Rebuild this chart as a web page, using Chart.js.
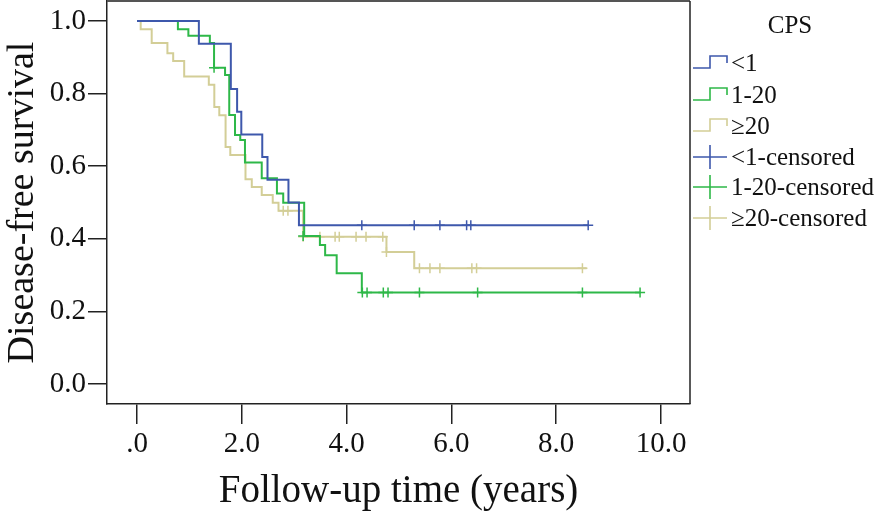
<!DOCTYPE html>
<html>
<head>
<meta charset="utf-8">
<script src="https://cdn.jsdelivr.net/npm/chart.js@4.4.0/dist/chart.umd.min.js"></script>
<style>
  html, body { margin: 0; padding: 0; background: #fff; }
  #wrap { position: relative; width: 886px; height: 515px; overflow: hidden; }
  #legend { position: absolute; left: 0; top: 0; font-family: "Liberation Serif", "Times New Roman", serif; color: #111; }
  .legend-title { position: absolute; left: 740px; width: 100px; top: 10px; line-height: 30px; font-size: 25px; text-align: center; }
  .row { position: absolute; left: 692px; height: 30px; display: flex; align-items: center; font-size: 25px; white-space: nowrap; }
  .row svg { margin-right: 3px; }
</style>
</head>
<body>
<div id="wrap">
  <canvas id="kmChart" width="886" height="515"></canvas>
  <div id="legend"></div>
</div>
<script>
  // CPS groups
  const groups = ["<1", "1-20", "\u226520"];
  const colors = ["#3E58AC", "#2EB848", "#D3CE97"];

  // step curves: event times (years) and survival after each step
  const lowT = [0, 1.18, 1.79, 1.91, 1.99, 2.39, 2.49, 2.89, 3.09, 8.61];
  const lowS = [1.0, 0.9375, 0.8125, 0.75, 0.6875, 0.625, 0.5625, 0.5, 0.4375, 0.4375];

  const midT = [0, 0.78, 0.98, 1.39, 1.47, 1.68, 1.76, 1.87, 1.97, 2.06, 2.38, 2.67, 2.79, 3.19, 3.49, 3.59, 3.81, 4.29, 9.60];
  const midS = [1.0, 0.977, 0.959, 0.939, 0.871, 0.851, 0.741, 0.686, 0.672, 0.610, 0.567, 0.525, 0.499, 0.408, 0.383, 0.355, 0.305, 0.252, 0.252];

  const highT = [0, 0.07, 0.28, 0.58, 0.69, 0.90, 1.37, 1.475, 1.57, 1.69, 1.78, 2.07, 2.19, 2.38, 2.59, 2.70, 3.17, 4.76, 5.29, 8.58];
  const highS = [1.0, 0.977, 0.939, 0.911, 0.890, 0.847, 0.824, 0.763, 0.740, 0.653, 0.631, 0.564, 0.543, 0.521, 0.499, 0.477, 0.406, 0.364, 0.319, 0.319];

  // censored observations
  const lowCensT = [4.29, 5.29, 5.78, 6.29, 6.37, 8.61];
  const lowCensS = [0.4375, 0.4375, 0.4375, 0.4375, 0.4375, 0.4375];

  const midCensT = [1.47, 3.17, 4.30, 4.39, 4.70, 4.79, 5.39, 6.50, 8.50, 9.60];
  const midCensS = [0.871, 0.408, 0.252, 0.252, 0.252, 0.252, 0.252, 0.252, 0.252, 0.252];

  const highCensT = [2.79, 2.88, 3.17, 3.49, 3.78, 3.86, 4.18, 4.37, 4.69, 4.76, 5.39, 5.59, 5.78, 6.39, 6.48, 8.50];
  const highCensS = [0.477, 0.477, 0.406, 0.406, 0.406, 0.406, 0.406, 0.406, 0.406, 0.364, 0.319, 0.319, 0.319, 0.319, 0.319, 0.319];

  const xTicks = [0, 2, 4, 6, 8, 10];
  const yTicks = [0, 0.2, 0.4, 0.6, 0.8, 1.0];

  const serif = "'Liberation Serif', 'Times New Roman', serif";

  function pts(t, s) {
    return t.map((x, i) => ({ x: x, y: s[i] }));
  }

  function stepSet(t, s, i) {
    return {
      label: groups[i],
      data: pts(t, s),
      showLine: true,
      stepped: "before",
      borderColor: colors[i],
      borderWidth: 2,
      pointRadius: 0,
      fill: false,
      order: i + 1
    };
  }

  function censSet(t, s, i) {
    return {
      label: groups[i] + "-censored",
      data: pts(t, s),
      showLine: false,
      pointStyle: "cross",
      pointRadius: 5,
      borderColor: colors[i],
      backgroundColor: colors[i],
      pointBorderWidth: 1.5,
      order: i + 1
    };
  }

  const framePlugin = {
    id: "frame",
    afterDraw(chart) {
      const { ctx, chartArea: a } = chart;
      ctx.save();
      ctx.strokeStyle = "#555";
      ctx.lineWidth = 2;
      ctx.beginPath();
      ctx.moveTo(a.left, a.top);
      ctx.lineTo(a.right, a.top);
      ctx.stroke();
      ctx.strokeStyle = "#222";
      ctx.lineWidth = 1.5;
      ctx.beginPath();
      ctx.moveTo(a.right, a.top);
      ctx.lineTo(a.right, a.bottom);
      ctx.stroke();
      ctx.restore();
    }
  };

  new Chart(document.getElementById("kmChart"), {
    type: "scatter",
    data: {
      datasets: [
        stepSet(lowT, lowS, 0),
        stepSet(midT, midS, 1),
        stepSet(highT, highS, 2),
        censSet(lowCensT, lowCensS, 0),
        censSet(midCensT, midCensS, 1),
        censSet(highCensT, highCensS, 2)
      ]
    },
    options: {
      responsive: false,
      animation: false,
      layout: { autoPadding: false, padding: { top: 1, right: 196, left: 0, bottom: 0 } },
      plugins: { legend: { display: false }, tooltip: { enabled: false } },
      scales: {
        x: {
          type: "linear",
          min: -0.573,
          max: 10.553,
          afterBuildTicks: s => { s.ticks = xTicks.map(v => ({ value: v })); },
          afterFit: s => { s.height = 111; s.paddingLeft = 0; s.paddingRight = 0; },
          ticks: {
            autoSkip: false,
            padding: 3,
            color: "#111",
            font: { family: serif, size: 29 },
            callback: v => (v === 0 ? ".0" : v.toFixed(1))
          },
          grid: { drawOnChartArea: false, drawTicks: true, tickLength: 20, color: "#222", lineWidth: 1.5 },
          border: { color: "#222", width: 1.5 },
          title: {
            display: true,
            text: "Follow-up time (years)",
            color: "#111",
            font: { family: serif, size: 39 },
            padding: { top: 0, bottom: 0 }
          }
        },
        y: {
          type: "linear",
          min: -0.055,
          max: 1.055,
          afterBuildTicks: s => { s.ticks = yTicks.map(v => ({ value: v })); },
          afterFit: s => { s.width = 107; s.paddingTop = 0; s.paddingBottom = 0; },
          ticks: {
            autoSkip: false,
            padding: 2,
            color: "#111",
            font: { family: serif, size: 29 },
            callback: v => v.toFixed(1)
          },
          grid: { drawOnChartArea: false, drawTicks: true, tickLength: 19, color: "#222", lineWidth: 1.5 },
          border: { color: "#222", width: 1.5 },
          title: {
            display: true,
            text: "Disease-free survival",
            color: "#111",
            font: { family: serif, size: 38 },
            padding: { top: 0, bottom: 0 }
          }
        }
      }
    },
    plugins: [framePlugin]
  });

  // legend beside the plot
  const legendRows = [
    { text: groups[0], color: colors[0], kind: "step", y: 63 },
    { text: groups[1], color: colors[1], kind: "step", y: 95 },
    { text: groups[2], color: colors[2], kind: "step", y: 126 },
    { text: groups[0] + "-censored", color: colors[0], kind: "cross", y: 157 },
    { text: groups[1] + "-censored", color: colors[1], kind: "cross", y: 187 },
    { text: groups[2] + "-censored", color: colors[2], kind: "cross", y: 218 }
  ];

  function icon(kind, color) {
    const path = kind === "step"
      ? "M1 20 L18 20 L18 8 L35 8 L35 15"
      : "M1 15 L35 15 M18 3 L18 27";
    return '<svg width="36" height="30" viewBox="0 0 36 30"><path d="' + path +
      '" fill="none" stroke="' + color + '" stroke-width="1.6"/></svg>';
  }

  const legend = document.getElementById("legend");
  let html = '<div class="legend-title">CPS</div>';
  legendRows.forEach(r => {
    html += '<div class="row" style="top:' + (r.y - 15) + 'px">' + icon(r.kind, r.color) +
      "<span>" + r.text.replace("<", "&lt;") + "</span></div>";
  });
  legend.innerHTML = html;
</script>
</body>
</html>
